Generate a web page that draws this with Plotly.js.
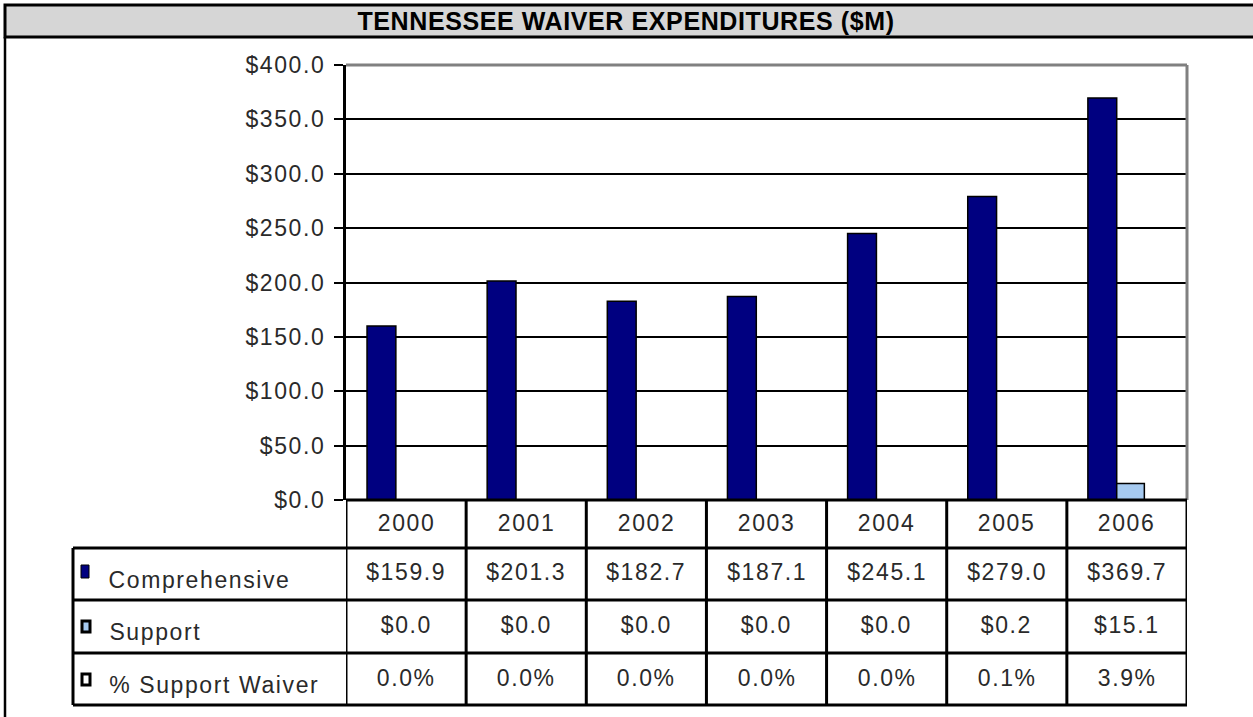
<!DOCTYPE html>
<html>
<head>
<meta charset="utf-8">
<script src="https://cdn.plot.ly/plotly-3.0.1.min.js"></script>
<style>
html,body{margin:0;padding:0;background:#fff;}
#chart{width:1253px;height:717px;}
#chart .ytick text, #chart .annotation-text {letter-spacing:1.6px;}
#chart .gtitle {letter-spacing:0.6px;}
</style>
</head>
<body>
<div id="chart"></div>
<script>
// ---- data ----
const years = ['2000','2001','2002','2003','2004','2005','2006'];
const comprehensive = [159.9, 201.3, 182.7, 187.1, 245.1, 279.0, 369.7];
const support = [0.0, 0.0, 0.0, 0.0, 0.0, 0.2, 15.1];
const pctSupport = [0.0, 0.0, 0.0, 0.0, 0.0, 0.1, 3.9];
const seriesNames = ['Comprehensive', 'Support', '% Support Waiver'];
const yTickVals = [0, 50, 100, 150, 200, 250, 300, 350, 400];
const chartTitle = 'TENNESSEE WAIVER EXPENDITURES ($M)';

// ---- geometry helpers (pixels -> paper) ----
const W = 1253, H = 717;
const M = {l: 346, r: W - 1187, t: 65, b: H - 500};
const PW = W - M.l - M.r, PH = H - M.t - M.b;
const xp = px => (px - M.l) / PW;
const yp = py => (H - M.b - py) / PH;

const FONT = 'Liberation Sans, Arial, sans-serif';
const TXT = '#2a2a2a';
const fs = 23;
const LS = 1.6; // letter spacing applied by CSS

const traces = [
  {type: 'bar', name: seriesNames[0], x: years, y: comprehensive,
   width: 0.24, offset: -0.325,
   marker: {color: '#000080', line: {color: '#000000', width: 1.5}},
   hoverinfo: 'x+y'},
  {type: 'bar', name: seriesNames[1], x: years, y: support,
   width: 0.23, offset: -0.085,
   marker: {color: '#a6caf0', line: {color: '#000000', width: 1.5}},
   hoverinfo: 'x+y'}
];

const shapes = [];
const annotations = [];
const L = (x0, y0, x1, y1, color, width, xref) => shapes.push({
  type: 'line', xref: xref || 'paper', yref: 'paper',
  x0: x0, y0: y0, x1: x1, y1: y1, line: {color: color, width: width}});

// title bar and outer left border
shapes.push({type: 'rect', xref: 'paper', yref: 'paper',
  x0: xp(5), x1: xp(1262), y0: yp(5), y1: yp(37),
  fillcolor: '#d6d6d6', line: {color: '#000', width: 3}, layer: 'below'});
L(xp(5), yp(37), xp(5), yp(720), '#000', 2.5);

// plot frame (grey top and right)
L(0, 1, 1, 1, '#808080', 3);
L(1, 0, 1, 1, '#808080', 3);

// table horizontal lines
L(0, 0, 1, 0, '#000', 3);
[548, 600, 653, 705].forEach(py => L(xp(73), yp(py), 1, yp(py), '#000', 3));
// table vertical lines
L(xp(73), yp(548), xp(73), yp(705), '#000', 3);
for (let i = 0; i <= years.length; i++) {
  L(i - 0.5, yp(500), i - 0.5, yp(705), '#000', 3, 'x');
}

// legend keys
shapes.push({type: 'rect', xref: 'paper', yref: 'paper',
  x0: xp(81), x1: xp(89), y0: yp(565), y1: yp(578),
  fillcolor: '#000080', line: {color: '#000', width: 1}});
shapes.push({type: 'rect', xref: 'paper', yref: 'paper',
  x0: xp(82), x1: xp(90), y0: yp(621), y1: yp(632),
  fillcolor: '#a6caf0', line: {color: '#000', width: 3}});
shapes.push({type: 'rect', xref: 'paper', yref: 'paper',
  x0: xp(82), x1: xp(90), y0: yp(674), y1: yp(685),
  fillcolor: '#ffffff', line: {color: '#000', width: 3}});

// table text
const rowY = [572, 625, 678];
const labY = [580, 632, 685];
const fmtMoney = v => '$' + v.toFixed(1);
const fmtPct = v => v.toFixed(1) + '%';
const rows = [comprehensive.map(fmtMoney), support.map(fmtMoney), pctSupport.map(fmtPct)];
const ann = (x, xref, y, text, xanchor) => annotations.push({
  x: x, xref: xref, y: y, yref: 'paper', text: text, showarrow: false,
  xanchor: xanchor, yanchor: 'middle', font: {family: FONT, size: fs, color: TXT}});

years.forEach((yr, i) => ann(i, 'x', yp(523), yr, 'center'));
rows.forEach((r, ri) => {
  // compensate for the CSS letter spacing, which widens the text around its centre
  const name = seriesNames[ri];
  ann(xp(107 + name.length * LS / 2), 'paper', yp(labY[ri]), name, 'left');
  r.forEach((t, i) => ann(i, 'x', yp(rowY[ri]), t, 'center'));
});

const layout = {
  width: W, height: H,
  margin: M,
  paper_bgcolor: '#fff', plot_bgcolor: '#fff',
  showlegend: false,
  barmode: 'group',
  title: {text: chartTitle, x: 626 / W, xanchor: 'center', xref: 'container',
          y: 1 - 21 / H, yanchor: 'middle', yref: 'container',
          font: {family: FONT, size: 25, weight: 'bold', color: '#000'}},
  xaxis: {type: 'category', range: [-0.5, years.length - 0.5],
          showticklabels: false, showgrid: false, zeroline: false, showline: false,
          ticks: '', fixedrange: true},
  yaxis: {range: [0, 400], tickvals: yTickVals, tickformat: '$.1f',
          ticks: 'outside', ticklen: 9, tickwidth: 2, tickcolor: '#000',
          ticklabelstandoff: 4,
          showline: true, linecolor: '#000', linewidth: 3,
          showgrid: true, gridcolor: '#000', gridwidth: 2, zeroline: false,
          tickfont: {family: FONT, size: fs, color: TXT}, fixedrange: true},
  shapes: shapes,
  annotations: annotations
};

Plotly.newPlot('chart', traces, layout, {displayModeBar: false, staticPlot: true});
</script>
</body>
</html>
